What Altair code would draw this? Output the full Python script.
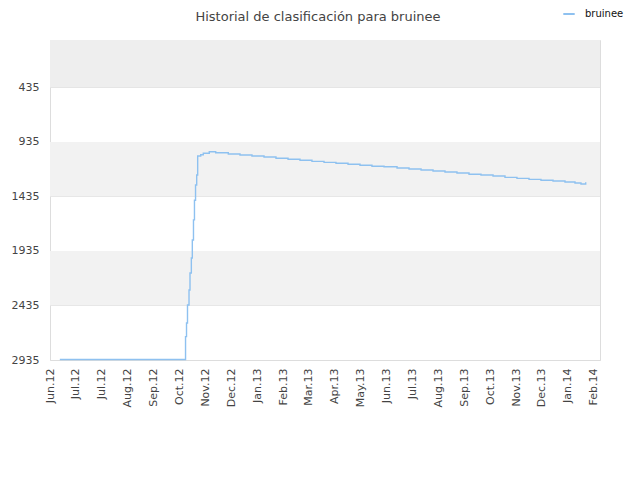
import altair as alt
import pandas as pd

title_text = "Historial de clasificación para bruinee"

# x labels (one per tick, ticks every 29 days from the first)
x_labels = ["Jun.12", "Jul.12", "Jul.12", "Aug.12", "Sep.12", "Oct.12", "Nov.12",
            "Dec.12", "Jan.13", "Feb.13", "Mar.13", "Apr.13", "May.13", "Jun.13",
            "Jul.13", "Aug.13", "Sep.13", "Oct.13", "Nov.13", "Dec.13", "Jan.14", "Feb.14"]
y_ticks = [435, 935, 1435, 1935, 2435, 2935]

# series: day offset and ranking
days = [11, 151, 151.8, 152.9, 154.0, 155.7, 156.8, 158.3, 159.4, 160.7, 161.8, 163.0,
        164.3, 165.4, 168.8, 171.7, 178.4, 185.6, 199.7, 212.8, 226.2, 239.7, 253.1,
        266.6, 280.0, 293.4, 306.9, 320.3, 333.8, 347.2, 360.6, 374.1, 388.7, 402.1,
        415.6, 429.0, 442.4, 455.8, 469.3, 482.7, 496.2, 509.6, 523.0, 536.5, 549.9,
        563.4, 576.8, 588.0, 594.7, 600.0]
ranks = [2930, 2930, 2721, 2596, 2431, 2293, 2137, 2000, 1834, 1650, 1470, 1330,
         1238, 1064, 1052, 1039, 1025, 1034, 1046, 1055, 1064, 1073, 1085,
         1094, 1103, 1113, 1122, 1131, 1140, 1149, 1158, 1163, 1174, 1183,
         1192, 1201, 1210, 1220, 1231, 1238, 1247, 1260, 1269, 1278, 1287,
         1293, 1302, 1311, 1321, 1305]
series_name = "bruinee"

# background bands
band_lo = [0, 935, 1935]
band_hi = [435, 1435, 2435]
band_fill = ["#eeeeee", "#f2f2f2", "#f2f2f2"]

line_df = pd.DataFrame({"dia": days, "rank": ranks, "serie": [series_name] * len(days)})
band_df = pd.DataFrame({"lo": band_lo, "hi": band_hi, "c": band_fill})
title_df = pd.DataFrame({"t": [title_text]})

tick_step = 29
x_vals = [i * tick_step for i in range(len(x_labels))]
label_expr = "[" + ",".join("'%s'" % l for l in x_labels) + "][round(datum.value / %d)]" % tick_step

x_scale = alt.Scale(domain=[0, 616], nice=False, zero=False)
y_scale = alt.Scale(domain=[0, 2935], reverse=True, nice=False, zero=False)

x_axis = alt.Axis(values=x_vals, labelExpr=label_expr, labelAngle=-90, labelAlign="right",
                  labelBaseline="middle", ticks=False, domain=False, grid=False,
                  labelPadding=8, labelFontSize=11, labelColor="#444444",
                  labelFont="DejaVu Sans", title=None, labelOverlap=False)
y_axis = alt.Axis(values=y_ticks, format="d", ticks=False, domain=False, grid=True,
                  gridColor="#dddddd", labelPadding=11, labelFontSize=11,
                  labelColor="#444444", labelFont="DejaVu Sans", title=None)

bands = alt.Chart(band_df).mark_rect().encode(
    x=alt.value(0), x2=alt.value(550),
    y=alt.Y("lo:Q", scale=y_scale, axis=y_axis),
    y2="hi:Q",
    fill=alt.Fill("c:N", scale=None),
)

line = alt.Chart(line_df).mark_line(interpolate="step-after", strokeWidth=1.4).encode(
    x=alt.X("dia:Q", scale=x_scale, axis=x_axis),
    y=alt.Y("rank:Q", scale=y_scale, axis=y_axis),
    color=alt.Color("serie:N", scale=alt.Scale(range=["#8ec1f0"]),
                    legend=alt.Legend(title=None, orient="none", legendX=512, legendY=-33,
                                      symbolType="stroke", symbolSize=130, symbolStrokeWidth=2,
                                      labelFontSize=10, labelFont="DejaVu Sans",
                                      labelColor="#111111", padding=0, labelOffset=9)),
)

title = alt.Chart(title_df).mark_text(
    fontSize=13, font="DejaVu Sans", color="#444444", align="center", baseline="alphabetic"
).encode(text="t:N", x=alt.value(268), y=alt.value(-19))

chart = alt.layer(bands, line, title).properties(
    width=550, height=320,
    autosize=alt.AutoSizeParams(type="none"),
    padding={"left": 42, "top": 32, "right": 28, "bottom": 100},
).configure_view(stroke="#dddddd", strokeWidth=1).configure(background="white")

chart.save("out.html", embed_options={"renderer": "svg", "actions": False})
